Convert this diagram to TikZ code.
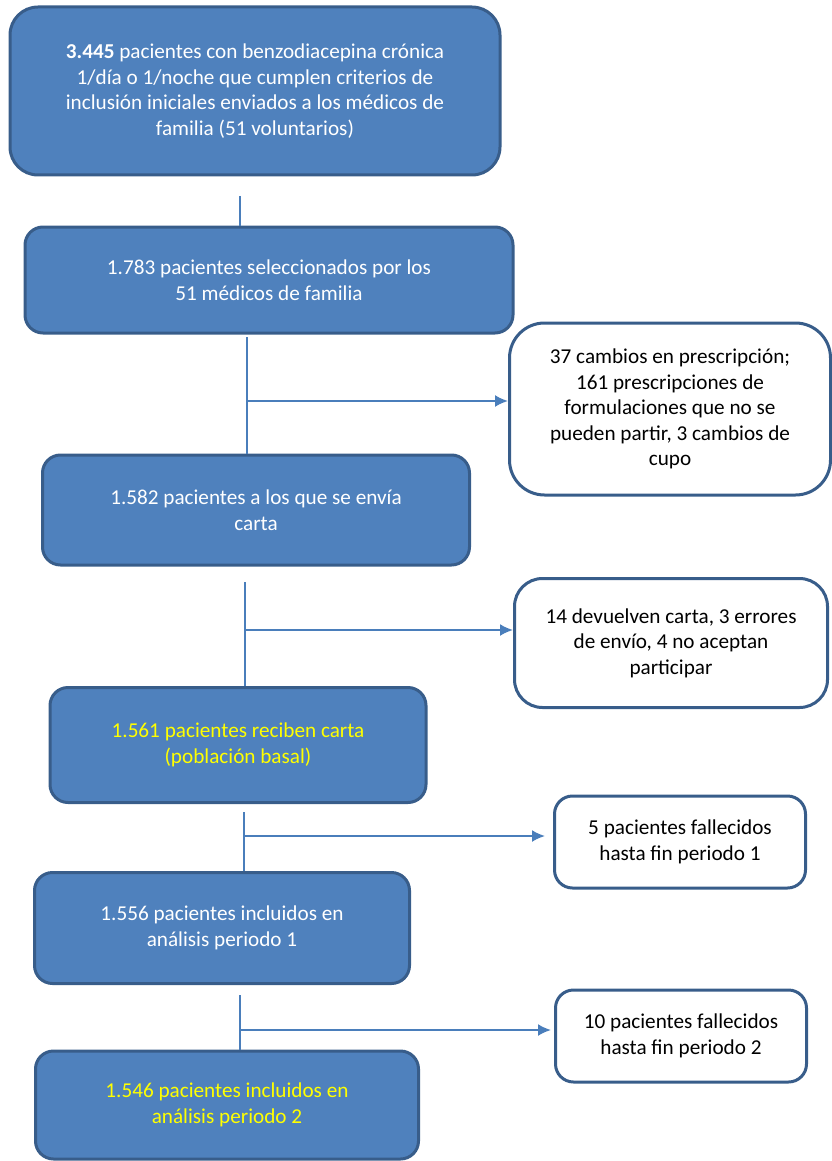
\documentclass[tikz,border=0pt]{standalone}
\usepackage{fontspec}
\setmainfont{Carlito}
\usepackage{xcolor}
\usepackage{tikz}
\usetikzlibrary{shapes.misc}
\usetikzlibrary{calc}
\usetikzlibrary{arrows.meta}
\definecolor{boxblue}{HTML}{4F81BD}
\definecolor{boxedge}{HTML}{385D8A}
\definecolor{linkblue}{HTML}{4A7EBB}
\definecolor{txtyellow}{HTML}{FFFF00}
\tikzstyle{bluebox} = [draw=boxedge,fill=boxblue,line width=3pt,align=center,text=white,font=\fontsize{21.2}{25.5}\selectfont]
\tikzstyle{whitebox} = [draw=boxedge,fill=white,line width=3pt,align=center,text=black,font=\fontsize{21.2}{25.5}\selectfont]
\tikzstyle{link} = [linkblue,line width=2pt]
\tikzstyle{arrow} = [linkblue,line width=2pt,->,>={Latex[length=13pt,width=12pt]}]

\begin{document}
\begin{tikzpicture}[x=1pt,y=-1pt]
\useasboundingbox (0,0) rectangle (831,1161);

\node[bluebox,rounded corners=28pt,minimum width=490pt,minimum height=168pt] (sel0) at (255,91)
  {\textbf{3.445} pacientes con benzodiacepina crónica\\1/día o 1/noche que cumplen criterios de\\inclusión iniciales enviados a los médicos de\\familia (51 voluntarios)};
\node[bluebox,rounded corners=18pt,minimum width=488pt,minimum height=106pt] (sel1) at (269,280)
  {1.783 pacientes seleccionados por los\\51 médicos de familia};
\node[bluebox,rounded corners=18pt,minimum width=427pt,minimum height=110pt] (sel2) at (256,510)
  {1.582 pacientes a los que se envía\\carta};
\node[bluebox,rounded corners=18pt,minimum width=376pt,minimum height=115pt,text=txtyellow] (sel3) at (238,745)
  {1.561 pacientes reciben carta\\(población basal)};
\node[bluebox,rounded corners=18pt,minimum width=375pt,minimum height=111pt] (sel4) at (222,928)
  {1.556 pacientes incluidos en\\análisis periodo 1};
\node[bluebox,rounded corners=18pt,minimum width=383pt,minimum height=108pt,text=txtyellow] (sel5) at (227,1105)
  {1.546 pacientes incluidos en\\análisis periodo 2};

\node[whitebox,rounded corners=35pt,minimum width=321pt,minimum height=172pt] (out1) at (670,409)
  {37 cambios en prescripción;\\161 prescripciones de\\formulaciones que no se\\pueden partir, 3 cambios de\\cupo};
\node[whitebox,rounded corners=28pt,minimum width=313pt,minimum height=129pt] (out2) at (671,643)
  {14 devuelven carta, 3 errores\\de envío, 4 no aceptan\\participar};
\node[whitebox,rounded corners=18pt,minimum width=251pt,minimum height=92pt] (out3) at (680,842)
  {5 pacientes fallecidos\\hasta fin periodo 1};
\node[whitebox,rounded corners=18pt,minimum width=251pt,minimum height=92pt] (out4) at (681,1036)
  {10 pacientes fallecidos\\hasta fin periodo 2};

\coordinate (top1) at (240,196);
\coordinate (top2) at (247,337);
\coordinate (top3) at (245,582);
\coordinate (top4) at (244,812);
\coordinate (top5) at (240,995);
\coordinate (jn2) at (247,401);
\coordinate (jn3) at (245,630);
\coordinate (jn4) at (244,836);
\coordinate (jn5) at (240,1030);

\draw [link] (top1) -- (top1 |- sel1.north);
\draw [link] (top2) -- (top2 |- sel2.north);
\draw [link] (top3) -- (top3 |- sel3.north);
\draw [link] (top4) -- (top4 |- sel4.north);
\draw [link] (top5) -- (top5 |- sel5.north);

\draw [arrow] (jn2) -- (jn2 -| out1.west);
\draw [arrow] (jn3) -- (jn3 -| out2.west);
\draw [arrow,shorten >=8pt] (jn4) -- (jn4 -| out3.west);
\draw [arrow,shorten >=3pt] (jn5) -- (jn5 -| out4.west);

\end{tikzpicture}
\end{document}
